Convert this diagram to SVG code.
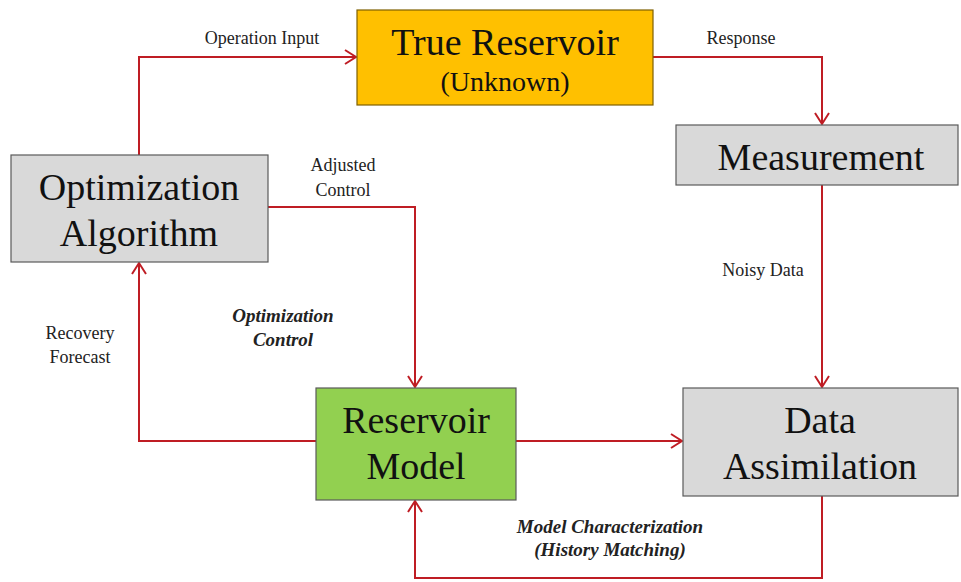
<svg xmlns="http://www.w3.org/2000/svg" width="961" height="582" viewBox="0 0 961 582">
<style>
.box{stroke:#5a5a5a;stroke-width:1.2}
.gray{fill:#d9d9d9}
.big{font-family:"Liberation Serif","Times New Roman",serif;font-size:38px;fill:#111;text-anchor:middle}
.sm{font-family:"Liberation Serif","Times New Roman",serif;font-size:18px;fill:#222;text-anchor:middle}
.bi{font-weight:bold;font-style:italic;font-size:19px}
.ln{fill:none;stroke:#bf1d24;stroke-width:2}
</style>
<defs>
<marker id="ah" markerUnits="userSpaceOnUse" markerWidth="14" markerHeight="16" refX="12" refY="8" orient="auto">
<path d="M1,1 L12,8 L1,15" fill="none" stroke="#bf1d24" stroke-width="2"/>
</marker>
</defs>
<rect width="961" height="582" fill="#fff"/>
<g id="connectors">
<path class="ln" d="M139,155 V57 H356" marker-end="url(#ah)"/>
<path class="ln" d="M653,57 H822 V124" marker-end="url(#ah)"/>
<path class="ln" d="M822,185 V387" marker-end="url(#ah)"/>
<path class="ln" d="M268,207 H415 V387" marker-end="url(#ah)"/>
<path class="ln" d="M316,441 H139 V263" marker-end="url(#ah)"/>
<path class="ln" d="M516,441 H682" marker-end="url(#ah)"/>
<path class="ln" d="M822,496 V578 H415 V501" marker-end="url(#ah)"/>
<text class="sm" x="262" y="44">Operation Input</text>
<text class="sm" x="741" y="44">Response</text>
<text class="sm" x="343" y="171">Adjusted</text>
<text class="sm" x="343" y="196">Control</text>
<text class="sm" x="80" y="339">Recovery</text>
<text class="sm" x="80" y="363">Forecast</text>
<text class="sm bi" x="283" y="322">Optimization</text>
<text class="sm bi" x="283" y="346">Control</text>
<text class="sm" x="763" y="276">Noisy Data</text>
<text class="sm bi" x="610" y="533">Model Characterization</text>
<text class="sm bi" x="610" y="556">(History Matching)</text>
</g>
<g id="true-reservoir">
<rect class="box" x="357" y="10" width="296" height="95" fill="#ffc000" style="stroke:#7f6000"/>
<text class="big" x="505" y="55">True Reservoir</text>
<text class="big" x="505" y="91" style="font-size:28px">(Unknown)</text>
</g>
<g id="measurement">
<rect class="box gray" x="676" y="125" width="282" height="60"/>
<text class="big" x="821" y="170">Measurement</text>
</g>
<g id="optimization-algorithm">
<rect class="box gray" x="11" y="155" width="257" height="107"/>
<text class="big" x="139" y="200">Optimization</text>
<text class="big" x="139" y="246">Algorithm</text>
</g>
<g id="reservoir-model">
<rect class="box" x="316" y="388" width="200" height="112" fill="#92d050"/>
<text class="big" x="416" y="433">Reservoir</text>
<text class="big" x="416" y="479">Model</text>
</g>
<g id="data-assimilation">
<rect class="box gray" x="683" y="388" width="275" height="108"/>
<text class="big" x="820" y="433">Data</text>
<text class="big" x="820" y="479">Assimilation</text>
</g>
</svg>
